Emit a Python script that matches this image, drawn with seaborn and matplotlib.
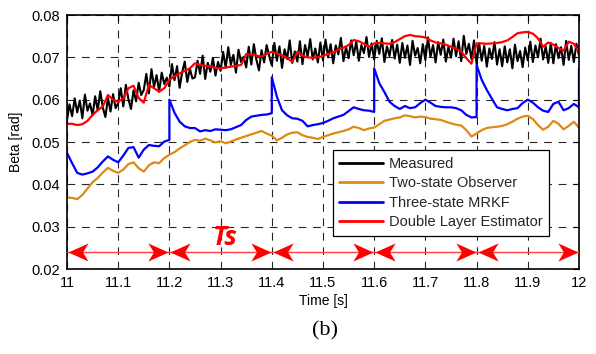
import numpy as np
import pandas as pd
import seaborn as sns
import matplotlib
matplotlib.use("Agg")
import matplotlib.pyplot as plt
from matplotlib.path import Path
from matplotlib.ticker import FuncFormatter, MultipleLocator

# values, in 1e-3 rad
measured = [
    55.2, 58.9, 56.1, 60.3, 57.0, 59.8, 55.6, 61.2, 57.4, 59.1,
    56.3, 60.8, 57.5, 62.0, 58.1, 55.9, 60.4, 57.2, 61.3, 58.0,
    59.2, 62.7, 58.4, 63.5, 60.1, 57.8, 62.2, 59.6, 64.0, 61.1,
    62.3, 66.1, 61.5, 67.2, 63.0, 65.8, 61.9, 66.4, 63.7, 65.2,
    63.1, 68.4, 64.6, 67.9, 62.8, 66.5, 69.0, 64.2, 67.3, 65.0,
    65.3, 69.2, 66.1, 70.4, 64.9, 68.7, 66.6, 69.8, 65.7, 68.9,
    66.8, 71.3, 67.5, 72.4, 68.2, 70.6, 66.4, 71.8, 68.9, 70.1,
    67.6, 72.5, 68.3, 73.1, 69.4, 66.9, 71.7, 68.8, 72.9, 70.3,
    68.1, 73.4, 69.2, 72.6, 67.5, 71.9, 69.6, 74.0, 68.7, 71.4,
    69.0, 73.8, 68.4, 72.9, 70.2, 74.3, 69.5, 72.1, 68.8, 73.5,
    69.3, 74.2, 70.0, 73.1, 68.6, 72.8, 70.7, 74.6, 69.1, 72.4,
    69.8, 74.0, 70.5, 73.7, 69.2, 72.9, 71.0, 74.8, 70.1, 73.3,
    69.5, 73.9, 70.8, 74.5, 68.9, 72.6, 70.3, 74.1, 69.7, 73.0,
    68.7, 73.4, 69.9, 72.8, 68.2, 73.9, 70.4, 72.2, 68.6, 73.1,
    69.4, 74.7, 70.1, 72.9, 68.8, 73.6, 70.6, 74.2, 69.0, 72.5,
    69.9, 74.4, 70.3, 73.8, 69.1, 75.1, 70.8, 73.2, 69.6, 74.0,
    68.5, 73.3, 69.2, 72.7, 67.8, 72.1, 69.6, 73.6, 68.3, 71.9,
    67.9, 72.6, 68.8, 71.9, 67.4, 73.0, 69.1, 71.5, 67.7, 72.3,
    69.3, 73.7, 68.9, 72.8, 70.0, 74.4, 69.5, 72.6, 68.7, 73.4,
    68.6, 73.1, 69.8, 72.4, 68.2, 73.9, 69.4, 72.7, 68.9, 73.2,
    70.5,
]

two_state = [
    36.9, 36.8, 36.5, 37.5, 39.0, 40.5, 41.5, 42.8, 43.9, 43.2,
    42.7, 43.5, 44.8, 45.2, 43.8, 43.0, 44.5, 45.2, 45.0, 46.2,
    47.0, 47.6, 48.5, 49.2, 50.0, 50.5, 50.3, 50.8, 50.4, 49.9,
    50.2, 49.7, 50.1, 50.6, 51.0, 51.4, 51.8, 52.2, 52.6, 52.0,
    51.5, 50.4, 51.0, 51.8, 52.2, 52.3, 51.6, 51.2, 51.0, 50.7,
    51.2, 51.6, 52.0, 52.3, 52.6, 53.0, 53.6, 53.3, 52.8, 53.2,
    53.4, 54.2, 55.0, 55.3, 55.6, 55.8, 56.3, 56.1, 55.8, 56.0,
    55.9, 55.5, 55.4, 55.2, 54.8, 54.4, 54.1, 53.9, 52.8, 51.3,
    52.0, 52.8, 53.3, 53.5, 53.6, 53.8, 54.2, 54.8, 55.5, 56.0,
    56.2, 55.4, 54.0, 52.9, 53.6, 55.0, 54.3, 53.0, 53.8, 54.8,
    53.4,
]

mrkf = [
    47.4, 45.0, 42.7, 42.3, 42.6, 43.0, 44.0, 45.4, 46.6, 45.8,
    45.2, 46.8, 48.6, 48.8, 46.3, 48.2, 49.3, 49.1, 49.0, 50.1,
    50.5, 56.9, 54.8, 53.7, 53.3, 53.3, 52.5, 52.8, 52.6, 53.0,
    52.9, 52.8, 53.0, 53.5, 54.0, 55.2, 56.0, 56.2, 56.4, 56.5,
    56.8, 60.7, 57.5, 56.3, 55.6, 55.5, 55.0, 53.7, 54.0, 54.2,
    54.5, 55.0, 55.6, 56.0, 56.4, 57.3, 58.2, 57.8, 57.5, 57.4,
    57.1, 63.9, 61.8, 59.5, 58.5, 57.8, 58.5, 58.0, 58.2, 59.2,
    60.0, 59.3, 58.5, 58.3, 58.2, 58.2, 58.0, 57.5, 56.4, 55.8,
    55.9, 64.7, 62.3, 60.2, 58.2, 57.8, 57.5, 57.8, 58.0, 59.2,
    60.0, 59.3, 58.2, 57.4, 57.1, 59.0, 59.5, 57.5, 58.0, 59.0,
    58.2,
]
# MRKF resets at every Ts
reset_times = [11.2, 11.4, 11.6, 11.8, 12.0]
reset_peaks = [60.0, 65.3, 67.4, 68.2, 67.4]

double_layer = [
    54.3, 54.3, 54.0, 54.2, 55.0, 56.4, 57.5, 58.4, 61.1, 60.0,
    59.5, 60.3, 62.7, 63.3, 60.4, 59.3, 63.5, 62.7, 61.9, 62.7,
    64.7, 65.5, 66.2, 66.8, 67.4, 68.6, 68.2, 68.0, 67.8, 67.5,
    67.4, 67.6, 67.8, 68.0, 68.2, 70.8, 70.6, 70.4, 70.2, 70.8,
    71.3, 70.9, 70.5, 69.8, 69.0, 71.3, 70.4, 70.0, 69.9, 70.0,
    70.3, 70.8, 71.2, 71.8, 72.3, 72.9, 74.1, 73.8, 73.2, 72.5,
    73.3, 73.4, 73.3, 73.2, 73.6, 74.3, 75.0, 75.3, 75.0, 74.9,
    74.7, 74.0, 73.5, 73.3, 73.0, 72.5, 72.0, 71.4, 69.8, 68.5,
    73.3, 73.3, 73.2, 73.3, 73.4, 73.6, 74.0, 74.8, 75.7, 75.9,
    76.0, 75.6, 74.5, 72.5, 73.5, 73.0, 72.2, 71.6, 73.7, 73.2,
    71.3,
]

t_fine = np.round(np.linspace(11.0, 12.0, len(measured)), 3)
t = np.round(np.linspace(11.0, 12.0, len(two_state)), 2)

# insert the vertical jumps of the MRKF curve
t_mrkf, v_mrkf = [], []
for ti, vi in zip(t, mrkf):
    t_mrkf.append(ti)
    v_mrkf.append(vi)
    if ti in reset_times:
        t_mrkf.append(ti)
        v_mrkf.append(reset_peaks[reset_times.index(ti)])

df_meas = pd.DataFrame({"t": t_fine, "beta": np.array(measured) / 1000})
df_two = pd.DataFrame({"t": t, "beta": np.array(two_state) / 1000})
df_mrkf = pd.DataFrame({"t": t_mrkf, "beta": np.array(v_mrkf) / 1000})
df_dle = pd.DataFrame({"t": t, "beta": np.array(double_layer) / 1000})

sns.set_theme(style="white")
plt.rcParams['font.family'] = ['Liberation Sans', 'DejaVu Sans']

fig = plt.figure(figsize=(5.96, 3.54), dpi=100)
ax = fig.add_axes([0.1124, 0.2401, 0.859, 0.7175])

kw = dict(x="t", y="beta", ax=ax, estimator=None, sort=False)
sns.lineplot(data=df_meas, color="black", lw=1.5, label="Measured", **kw)
sns.lineplot(data=df_two, color="#DD8A14", lw=1.6, label="Two-state Observer", **kw)
sns.lineplot(data=df_mrkf, color="#0000FF", lw=1.6, label="Three-state MRKF", **kw)
sns.lineplot(data=df_dle, color="#FF0000", lw=1.6, label="Double Layer Estimator", **kw)

ax.set_xlim(11, 12)
ax.set_ylim(0.02, 0.08)
ax.xaxis.set_major_locator(MultipleLocator(0.1))
ax.yaxis.set_major_locator(MultipleLocator(0.01))
ax.xaxis.set_major_formatter(FuncFormatter(lambda v, p: "%g" % round(v, 1)))
ax.yaxis.set_major_formatter(FuncFormatter(lambda v, p: "%.2f" % v))
ax.grid(True, color="0.15", lw=0.8, linestyle=(0, (7, 6)))
ax.tick_params(direction="in", length=4, width=0.8, labelsize=10.5,
               top=True, right=True, color="black", labelcolor="black", pad=5)
for s in ax.spines.values():
    s.set_color("black")
    s.set_linewidth(1.2)

ax.set_xlabel("Time [s]", fontsize=10, color="black", labelpad=3)
ax.set_ylabel("Beta [rad]", fontsize=10, color="black", labelpad=6)

# sampling period arrows with stealth heads
head_r = Path([(0, 0), (-1, 0.45), (-0.72, 0), (-1, -0.45), (0, 0)],
              [Path.MOVETO, Path.LINETO, Path.LINETO, Path.LINETO, Path.CLOSEPOLY])
head_l = Path([(0, 0), (1, 0.45), (0.72, 0), (1, -0.45), (0, 0)],
              [Path.MOVETO, Path.LINETO, Path.LINETO, Path.LINETO, Path.CLOSEPOLY])
y_arrow = 0.024
starts = [11.0] + reset_times[:-1]
for a, b in zip(starts, reset_times):
    ax.plot([a, b], [y_arrow, y_arrow], color="#FF4040", lw=1.0, zorder=4)
    ax.plot([a + 0.002], [y_arrow], marker=head_l, ms=29, color="#FF0000",
            mew=0, zorder=5)
    ax.plot([b - 0.002], [y_arrow], marker=head_r, ms=29, color="#FF0000",
            mew=0, zorder=5)
ax.text(11.31, 0.0275, "Ts", color="#FF0000", fontsize=19, fontweight="bold",
        fontstyle="italic", family=["Open Sans", "DejaVu Sans"],
        ha="center", va="center")

leg = ax.legend(loc="lower left", bbox_to_anchor=(0.519, 0.13), fontsize=10.5,
                frameon=True, fancybox=False, framealpha=1, edgecolor="black",
                handlelength=3.0, handletextpad=0.4, labelspacing=0.38,
                borderpad=0.45, borderaxespad=0)
leg.get_frame().set_linewidth(0.9)
for line in leg.get_lines():
    line.set_linewidth(2.0)

fig.text(0.545, 0.064, "(b)", fontsize=16, family=["Liberation Serif", "DejaVu Serif"],
         ha="center", va="center", color="black")

fig.savefig("out.png", dpi=100)
